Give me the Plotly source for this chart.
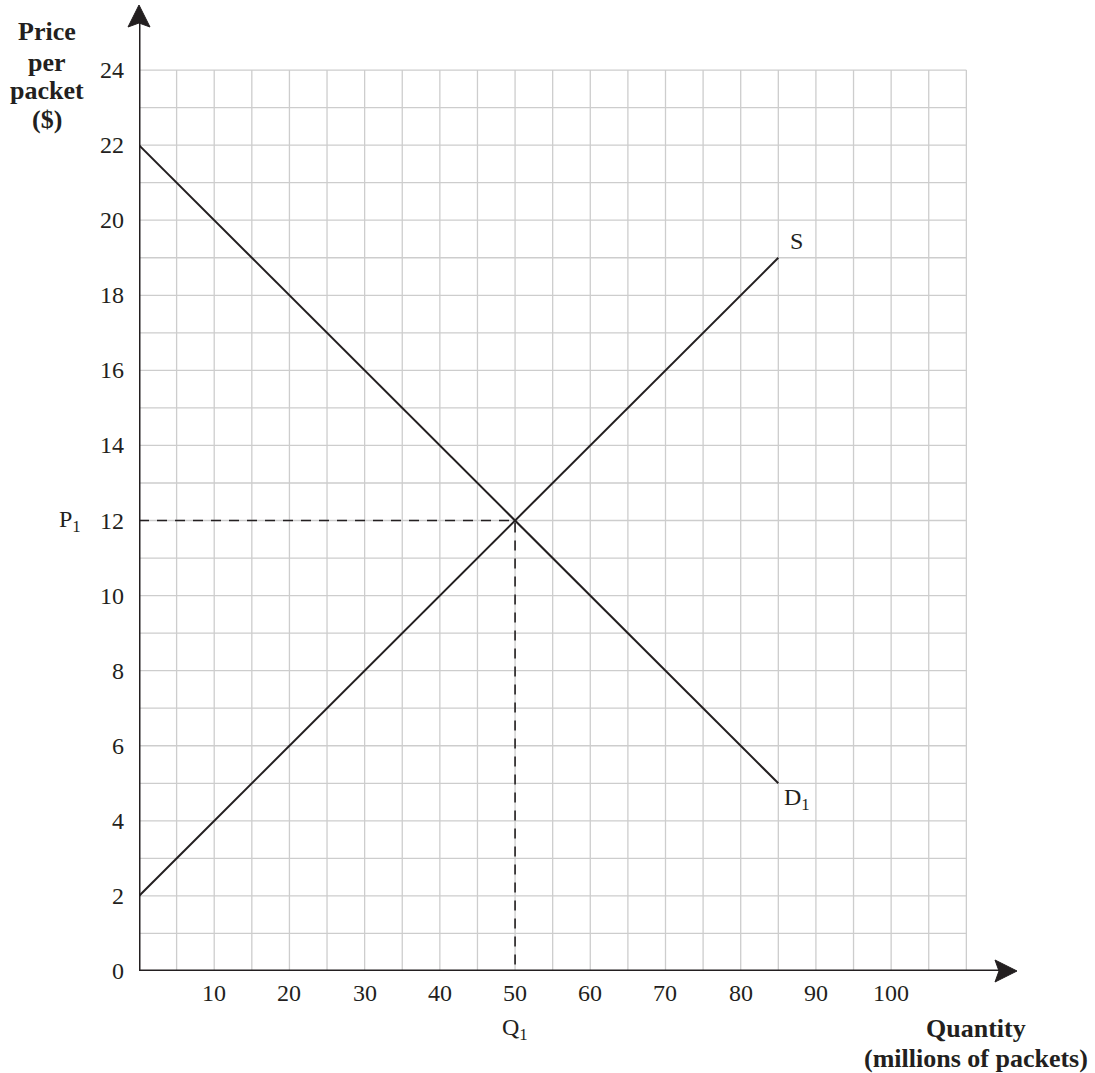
import plotly.graph_objects as go

# Market for packets: linear demand and supply schedules
quantity = [0, 85]            # millions of packets
demand_price = [22, 5]        # $ per packet, D1
supply_price = [2, 19]        # $ per packet, S
eq_quantity = 50              # Q1
eq_price = 12                 # P1

y_ticks = list(range(0, 25, 2))
x_ticks = list(range(10, 101, 10))
grid_x = list(range(5, 111, 5))
grid_y = list(range(1, 25))

y_title = ["Price", "per", "packet", "($)"]
x_title = ["Quantity", "(millions of packets)"]

INK = "#231f20"
GRID = "#cdcdcd"
FONT = "Liberation Serif"

# pixel geometry of the plotting area
L, R, T, B = 139, 76, 0, 102
W, H = 1095, 1073
PW, PH = W - L - R, H - T - B
XMAX = 117.0
YMAX = 25.866
XS = PW / XMAX
YS = PH / YMAX


def dx(px):
    return (px - L) / XS


def dy(py):
    return (H - B - py) / YS


def paper_x(px):
    return (px - L) / PW


def paper_y(py):
    return (H - B - py) / PH


def px_of_x(v):
    return L + v * XS


def py_of_y(v):
    return H - B - v * YS


fig = go.Figure()

# light grid
gx, gy = [], []
for v in grid_x:
    gx += [v, v, None]
    gy += [0, 24, None]
for v in grid_y:
    gx += [0, 110, None]
    gy += [v, v, None]
fig.add_trace(go.Scatter(x=gx, y=gy, mode="lines",
                         line=dict(color=GRID, width=1.3),
                         hoverinfo="skip", showlegend=False))

# equilibrium guides
fig.add_trace(go.Scatter(x=[0, eq_quantity, eq_quantity], y=[eq_price, eq_price, 0],
                         mode="lines", line=dict(color=INK, width=1.6, dash="10px,8px"),
                         hoverinfo="skip", showlegend=False))

# demand and supply
fig.add_trace(go.Scatter(x=quantity, y=demand_price, mode="lines",
                         line=dict(color=INK, width=2), name="D1", showlegend=False))
fig.add_trace(go.Scatter(x=quantity, y=supply_price, mode="lines",
                         line=dict(color=INK, width=2), name="S", showlegend=False))

# axes with arrow heads
x_tip_px = 1017
y_tip_px = 5
fig.add_trace(go.Scatter(x=[0, 0, None, 0, dx(x_tip_px - 6)],
                         y=[dy(y_tip_px + 6), 0, None, 0, 0],
                         mode="lines", line=dict(color=INK, width=3),
                         cliponaxis=False, hoverinfo="skip", showlegend=False))


def paper_path(points):
    segs = []
    for i, (px, py) in enumerate(points):
        segs.append(("M" if i == 0 else "L") + f" {paper_x(px):.5f} {paper_y(py):.5f}")
    return " ".join(segs) + " Z"


ax_px = px_of_x(0)
ay_px = py_of_y(0)
shapes = [
    dict(type="path", xref="paper", yref="paper",
         path=paper_path([(ax_px, y_tip_px), (ax_px + 11, y_tip_px + 22),
                          (ax_px, y_tip_px + 18), (ax_px - 11, y_tip_px + 22)]),
         fillcolor=INK, line=dict(color=INK, width=1)),
    dict(type="path", xref="paper", yref="paper",
         path=paper_path([(x_tip_px, ay_px), (x_tip_px - 22, ay_px - 11),
                          (x_tip_px - 18, ay_px), (x_tip_px - 22, ay_px + 11)]),
         fillcolor=INK, line=dict(color=INK, width=1)),
]

tick_font = dict(family=FONT, size=24, color=INK)
bold_font = dict(family=FONT, size=26, color=INK)


def note(px, py, text, font, xanchor="center", yanchor="middle", **kw):
    return dict(x=paper_x(px), y=paper_y(py), xref="paper", yref="paper", text=text,
                showarrow=False, xanchor=xanchor, yanchor=yanchor, font=font, **kw)


annotations = []
for v in y_ticks:
    annotations.append(note(126, py_of_y(v), str(v), tick_font, xanchor="right"))
for v in x_ticks:
    annotations.append(note(px_of_x(v), 993, str(v), tick_font))

annotations += [
    note(70, py_of_y(eq_price), "P<sub>1</sub>", tick_font),
    note(px_of_x(eq_quantity), 1029, "Q<sub>1</sub>", tick_font),
    note(px_of_x(quantity[1]) + 18, py_of_y(supply_price[1]) - 17, "S", tick_font),
    note(px_of_x(quantity[1]) + 19, py_of_y(demand_price[1]) + 16, "D<sub>1</sub>", tick_font),
]
for text, py in zip(y_title, [32, 62, 91, 119]):
    annotations.append(note(47, py, f"<b>{text}</b>", bold_font))
for text, py in zip(x_title, [1028, 1058]):
    annotations.append(note(976, py, f"<b>{text}</b>", bold_font))

fig.update_layout(
    width=W, height=H,
    margin=dict(l=L, r=R, t=T, b=B),
    paper_bgcolor="white", plot_bgcolor="white",
    xaxis=dict(range=[0, XMAX], visible=False, fixedrange=True),
    yaxis=dict(range=[0, YMAX], visible=False, fixedrange=True),
    shapes=shapes,
    annotations=annotations,
    showlegend=False,
)

fig.write_html("out.html")
